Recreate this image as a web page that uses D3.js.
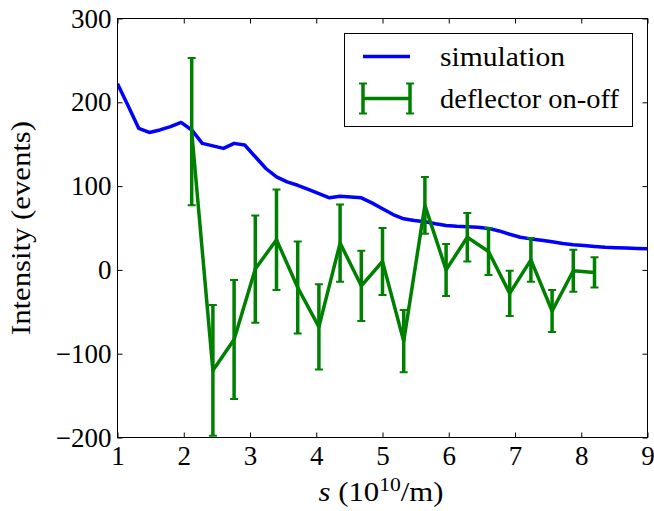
<!DOCTYPE html>
<html>
<head>
<meta charset="utf-8">
<script src="https://cdn.jsdelivr.net/npm/d3@7"></script>
<style>
  html, body { margin: 0; padding: 0; background: #fff; }
  svg { display: block; }
</style>
</head>
<body>
<svg id="chart" width="654" height="511"></svg>
<script>
// Simulated intensity, sampled every 0.16 in s (10^10/m)
const simS = [1.00, 1.16, 1.32, 1.48, 1.64, 1.80, 1.96, 2.12, 2.28, 2.44,
              2.60, 2.76, 2.92, 3.08, 3.24, 3.40, 3.56, 3.72, 3.88, 4.04,
              4.20, 4.36, 4.52, 4.68, 4.84, 5.00, 5.16, 5.32, 5.48, 5.64,
              5.80, 5.96, 6.12, 6.28, 6.44, 6.60, 6.76, 6.92, 7.08, 7.24,
              7.40, 7.56, 7.72, 7.88, 8.04, 8.20, 8.36, 8.52, 8.68, 8.84, 9.00];
const simIntensity = [222, 196, 169, 164, 167, 171, 176, 167, 151, 148,
                      145, 151, 149, 135, 121, 111, 105, 101, 96, 91,
                      86, 88, 87, 86, 80, 73, 66, 61, 59, 57.5,
                      55, 53, 52, 51.5, 51, 49.5, 46.5, 42.5, 39, 37,
                      35.5, 33.5, 31.5, 30, 29, 28, 27, 26.5, 26, 25.5, 25.2];

// Measured deflector on-off difference with its uncertainty
const measS = [2.12, 2.44, 2.76, 3.08, 3.40, 3.72, 4.04, 4.36, 4.68, 5.00,
               5.32, 5.64, 5.96, 6.28, 6.60, 6.92, 7.24, 7.56, 7.88, 8.20];
const measIntensity = [165, -120, -83, 1, 36, -21, -68, 32, -19, 10,
                       -85, 77, 0, 39, 22, -28, 12, -49, -1, -3];
const measError = [88, 78, 71, 64, 60, 55, 51, 46, 42, 40,
                   37, 34, 31, 29, 28, 27, 26, 25, 25, 18];

const xTicks = [1, 2, 3, 4, 5, 6, 7, 8, 9];
const yTicks = [-200, -100, 0, 100, 200, 300];
const legendLabels = ["simulation", "deflector on-off"];

const BLUE = "#0000ff", GREEN = "#008000";
const FONT = 27;
const FAMILY = "'Liberation Serif', 'Times New Roman', serif";
const LW = 3.5;

const svg = d3.select("#chart");
const pL = 117.5, pR = 647.5, pT = 18.5, pB = 437.5;

const x = d3.scaleLinear().domain([1, 9]).range([pL, pR]);
const y = d3.scaleLinear().domain([-200, 300]).range([pB, pT]);

svg.append("defs").append("clipPath").attr("id", "plotClip")
  .append("rect").attr("x", pL).attr("y", pT)
  .attr("width", pR - pL).attr("height", pB - pT);

const plot = svg.append("g").attr("clip-path", "url(#plotClip)");

// Simulation curve
plot.append("path")
  .datum(simS.map((s, i) => [s, simIntensity[i]]))
  .attr("fill", "none").attr("stroke", BLUE).attr("stroke-width", LW)
  .attr("stroke-linejoin", "round")
  .attr("d", d3.line().x(d => x(d[0])).y(d => y(d[1])));

// Measured curve
const meas = measS.map((s, i) => ({ s, v: measIntensity[i], e: measError[i] }));
plot.append("path")
  .datum(meas)
  .attr("fill", "none").attr("stroke", GREEN).attr("stroke-width", LW)
  .attr("stroke-linejoin", "round")
  .attr("d", d3.line().x(d => x(d.s)).y(d => y(d.v)));

// Error bars with caps
const eb = plot.append("g").attr("stroke", GREEN);
eb.selectAll("line.bar").data(meas).join("line").attr("class", "bar")
  .attr("x1", d => x(d.s)).attr("x2", d => x(d.s))
  .attr("y1", d => y(d.v - d.e)).attr("y2", d => y(d.v + d.e))
  .attr("stroke-width", LW);
const capW = 4;
eb.selectAll("line.capTop").data(meas).join("line").attr("class", "capTop")
  .attr("x1", d => x(d.s) - capW).attr("x2", d => x(d.s) + capW)
  .attr("y1", d => y(d.v + d.e)).attr("y2", d => y(d.v + d.e))
  .attr("stroke-width", 2);
eb.selectAll("line.capBot").data(meas).join("line").attr("class", "capBot")
  .attr("x1", d => x(d.s) - capW).attr("x2", d => x(d.s) + capW)
  .attr("y1", d => y(d.v - d.e)).attr("y2", d => y(d.v - d.e))
  .attr("stroke-width", 2);

// Axes: ticks pointing inward on all four sides
const fmt = d3.format("d");
const styleAxis = g => {
  g.select(".domain").remove();
  g.selectAll(".tick line").attr("stroke", "#000").attr("stroke-width", 1);
  g.selectAll(".tick text").attr("fill", "#000")
    .style("font-size", FONT + "px").style("font-family", FAMILY);
};
svg.append("g").attr("transform", `translate(0,${pB})`)
  .call(d3.axisBottom(x).tickValues(xTicks).tickFormat(fmt).tickSize(-5).tickSizeOuter(0).tickPadding(8))
  .call(styleAxis);
svg.append("g").attr("transform", `translate(0,${pT})`)
  .call(d3.axisTop(x).tickValues(xTicks).tickFormat("").tickSize(-5).tickSizeOuter(0))
  .call(styleAxis);
svg.append("g").attr("transform", `translate(${pL},0)`)
  .call(d3.axisLeft(y).tickValues(yTicks).tickFormat(fmt).tickSize(-5).tickSizeOuter(0).tickPadding(6))
  .call(styleAxis);
svg.append("g").attr("transform", `translate(${pR},0)`)
  .call(d3.axisRight(y).tickValues(yTicks).tickFormat("").tickSize(-5).tickSizeOuter(0))
  .call(styleAxis);

// Frame
svg.append("rect").attr("x", pL).attr("y", pT)
  .attr("width", pR - pL).attr("height", pB - pT)
  .attr("fill", "none").attr("stroke", "#000").attr("stroke-width", 1);

const label = (sel) => sel.style("font-family", FAMILY).style("font-size", FONT + "px").attr("fill", "#000");

// Axis titles (slightly widened, book-style lettering)
const xt = svg.append("text")
  .attr("transform", "translate(381,501) scale(1.14,1)")
  .attr("text-anchor", "middle").call(label);
xt.append("tspan").attr("font-style", "italic").text("s");
xt.append("tspan").text(" (10");
xt.append("tspan").attr("dy", -10).style("font-size", "19px").text("10");
xt.append("tspan").attr("dy", 10).text("/m)");

svg.append("text")
  .attr("transform", `translate(30,${(pT + pB) / 2}) rotate(-90)`)
  .attr("text-anchor", "middle").call(label)
  .attr("textLength", 214).attr("lengthAdjust", "spacingAndGlyphs")
  .text("Intensity (events)");

// Legend
const lg = svg.append("g");
lg.append("rect").attr("x", 344.5).attr("y", 33.5).attr("width", 288).attr("height", 93)
  .attr("fill", "#fff").attr("stroke", "#000").attr("stroke-width", 1);
lg.append("line").attr("x1", 363).attr("x2", 410).attr("y1", 56.5).attr("y2", 56.5)
  .attr("stroke", BLUE).attr("stroke-width", LW);
lg.append("line").attr("x1", 363).attr("x2", 410).attr("y1", 98.5).attr("y2", 98.5)
  .attr("stroke", GREEN).attr("stroke-width", LW);
[363, 410].forEach(px => {
  lg.append("line").attr("x1", px).attr("x2", px).attr("y1", 83.5).attr("y2", 113.5)
    .attr("stroke", GREEN).attr("stroke-width", LW);
  [83.5, 113.5].forEach(py => lg.append("line")
    .attr("x1", px - capW).attr("x2", px + capW).attr("y1", py).attr("y2", py)
    .attr("stroke", GREEN).attr("stroke-width", 2));
});
lg.append("text").attr("x", 440).attr("y", 66).call(label)
  .attr("textLength", 125).attr("lengthAdjust", "spacingAndGlyphs").text(legendLabels[0]);
lg.append("text").attr("x", 440).attr("y", 108).call(label)
  .attr("textLength", 179).attr("lengthAdjust", "spacingAndGlyphs").text(legendLabels[1]);
</script>
</body>
</html>
